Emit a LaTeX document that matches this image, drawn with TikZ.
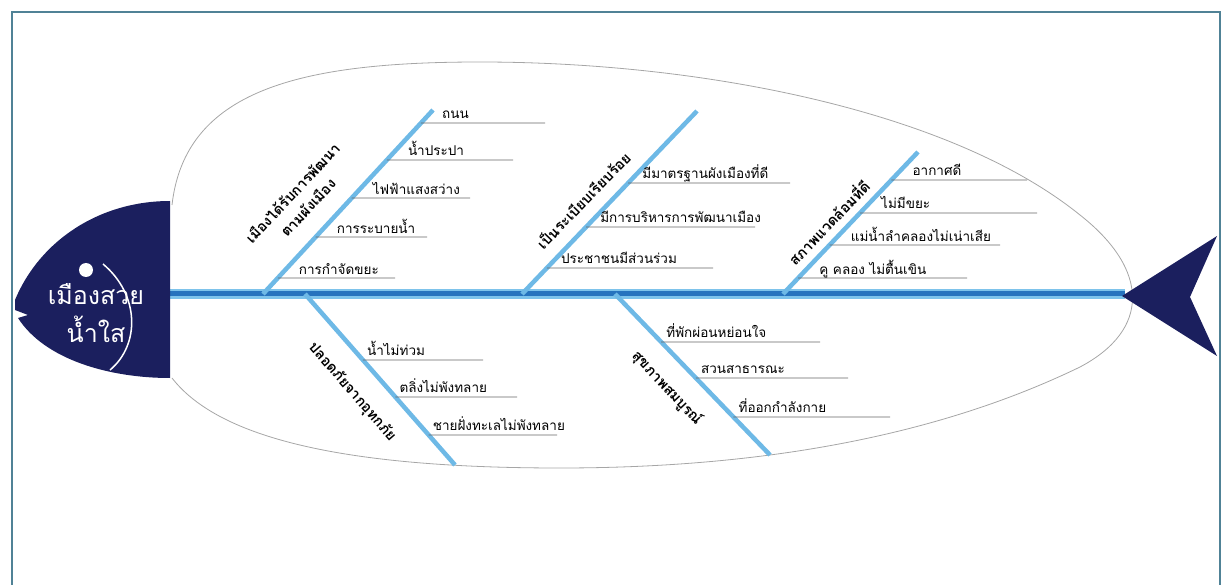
\documentclass[tikz,border=0pt]{standalone}
\usepackage{fontspec}
\newfontfamily\thaifont[Script=Thai]{Loma}
\usetikzlibrary{calc}
\definecolor{fishnavy}{RGB}{27,31,94}
\definecolor{spinelight}{RGB}{125,195,235}
\definecolor{spinedark}{RGB}{38,115,190}
\definecolor{bonecol}{RGB}{110,185,230}
\definecolor{framecol}{RGB}{80,130,150}
\tikzset{
  bone/.style={bonecol, line width=4.5},
  twig/.style={gray!80!black, line width=0.8},
  item/.style={font=\thaifont\fontsize{13.5}{16}\selectfont, anchor=base west, inner sep=1pt},
  cause/.style={font=\thaifont\bfseries\fontsize{14.5}{19}\selectfont, align=center, inner sep=1pt},
  headtext/.style={font=\thaifont\fontsize{25}{28}\selectfont, text=white, inner sep=0pt}
}

\begin{document}
\begin{tikzpicture}[x=1pt,y=-1pt]
\useasboundingbox (0,0) rectangle (1229,585);
\draw[framecol, line width=1.5] (12,585) -- (12,12) -- (1220,12) -- (1220,585);
% body outline
\draw[gray!70, line width=0.8] (172,205) .. controls (185,90) and (300,62) .. (480,62)
  .. controls (700,62) and (950,110) .. (1080,215) .. controls (1150,270) and (1150,330) .. (1080,367)
  .. controls (950,430) and (780,468) .. (560,468) .. controls (350,468) and (220,440) .. (172,378);
% spine
\coordinate (head) at (170,294);
\coordinate (tail) at (1125,294);
\draw[spinelight, line width=10] (head) -- (tail);
\draw[spinedark, line width=5] (head) -- (tail);
% head
\fill[fishnavy] (170,201) -- (170,378) .. controls (110,378) and (45,360) .. (18,318)
  -- (28,315) -- (15,310) -- (15,300) .. controls (40,240) and (100,201) .. (170,201) -- cycle;
\fill[white] (86,270) circle (7);
\draw[white, line width=1.5] (103,264) .. controls (140,295) and (140,345) .. (110,370);
\node[headtext] (name1) at (96,294) {เมืองสวย};
\node[headtext] (name2) at (96,329) {น้ำใส};
% tail
\fill[fishnavy] (1122,296) -- (1217,236) -- (1190,297) -- (1217,356) -- cycle;

% bones
\coordinate (r1a) at (263,294); \coordinate (r1b) at (433,110);
\coordinate (r2a) at (522,294); \coordinate (r2b) at (697,111);
\coordinate (r3a) at (783,294); \coordinate (r3b) at (918,152);
\coordinate (l1a) at (305,294); \coordinate (l1b) at (455,465);
\coordinate (l2a) at (615,294); \coordinate (l2b) at (770,455);
\draw[bone] (r1a) -- (r1b);
\draw[bone] (r2a) -- (r2b);
\draw[bone] (r3a) -- (r3b);
\draw[bone] (l1a) -- (l1b);
\draw[bone] (l2a) -- (l2b);

% causes
\node[cause, rotate=47] (c1) at (300,200) {เมืองได้รับการพัฒนา\\[2pt]ตามผังเมือง};
\node[cause, rotate=46] (c2) at (583,200) {เป็นระเบียบเรียบร้อย};
\node[cause, rotate=46] (c3) at (828,222) {สภาพแวดล้อมที่ดี};
\node[cause, rotate=-49] (c4) at (352,392) {ปลอดภัยจากอุทกภัย};
\node[cause, rotate=-47] (c5) at (667,388) {สุขภาพสมบูรณ์};

% sub causes
\foreach \y/\xe/\t [count=\i] in {123/545/ถนน, 160/513/น้ำประปา, 198/470/ไฟฟ้าแสงสว่าง,
    237/427/การระบายน้ำ, 278/395/การกำจัดขยะ} {
  \pgfmathsetmacro\f{(294-\y)/184}
  \coordinate (a\i) at ($(r1a)!\f!(r1b)$);
  \draw[twig] (a\i) -- (\xe,\y);
  \node[item] (ta\i) at ([xshift=20,yshift=4]a\i) {\t};
}
\foreach \y/\xe/\t [count=\i] in {183/790/มีมาตรฐานผังเมืองที่ดี, 227/755/มีการบริหารการพัฒนาเมือง,
    268/713/ประชาชนมีส่วนร่วม} {
  \pgfmathsetmacro\f{(294-\y)/183}
  \coordinate (b\i) at ($(r2a)!\f!(r2b)$);
  \draw[twig] (b\i) -- (\xe,\y);
  \node[item] (tb\i) at ([xshift=13,yshift=4]b\i) {\t};
}
\foreach \y/\xe/\t [count=\i] in {180/1027/อากาศดี, 213/1037/ไม่มีขยะ,
    245/1000/แม่น้ำลำคลองไม่เน่าเสีย, 278/967/คู คลอง ไม่ตื้นเขิน} {
  \pgfmathsetmacro\f{(294-\y)/142}
  \coordinate (d\i) at ($(r3a)!\f!(r3b)$);
  \draw[twig] (d\i) -- (\xe,\y);
  \node[item] (td\i) at ([xshift=20,yshift=4]d\i) {\t};
}
\foreach \y/\xe/\t [count=\i] in {360/483/น้ำไม่ท่วม, 397/517/ตลิ่งไม่พังทลาย,
    435/557/ชายฝั่งทะเลไม่พังทลาย} {
  \pgfmathsetmacro\f{(\y-294)/171}
  \coordinate (e\i) at ($(l1a)!\f!(l1b)$);
  \draw[twig] (e\i) -- (\xe,\y);
  \node[item] (te\i) at ([xshift=3,yshift=4]e\i) {\t};
}
\foreach \y/\xe/\t [count=\i] in {342/820/ที่พักผ่อนหย่อนใจ, 378/848/สวนสาธารณะ,
    417/890/ที่ออกกำลังกาย} {
  \pgfmathsetmacro\f{(\y-294)/161}
  \coordinate (g\i) at ($(l2a)!\f!(l2b)$);
  \draw[twig] (g\i) -- (\xe,\y);
  \node[item] (tg\i) at ([xshift=4,yshift=4]g\i) {\t};
}
\end{tikzpicture}
\end{document}
